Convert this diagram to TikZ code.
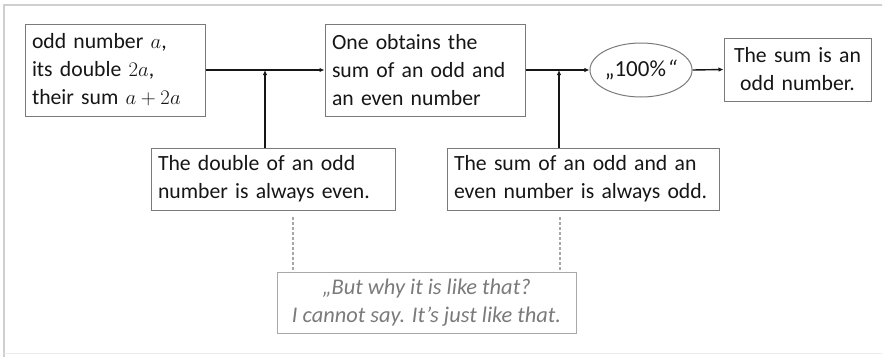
\documentclass[tikz,border=0pt]{standalone}
\usepackage{fontspec}
\setmainfont{Carlito}
\usetikzlibrary{arrows.meta,shapes.geometric}
\definecolor{ink}{HTML}{161616}
\definecolor{boxline}{HTML}{7A7A7A}
\definecolor{softline}{HTML}{A8A8A8}
\definecolor{softtext}{HTML}{7A7A7A}
\definecolor{frameline}{HTML}{CFCFCF}
\tikzset{
  txt/.style={font=\fontsize{21.7}{28}\selectfont, text=ink},
  stepbox/.style={txt, draw=boxline, line width=1pt, fill=white,
    inner xsep=7pt, inner ysep=0pt, align=left},
  flow/.style={draw=ink, line width=1.4pt, -{Latex[length=5pt,width=4.5pt]}},
  hint/.style={draw=softline, line width=1.2pt, dash pattern=on 3pt off 2pt},
}
\begin{document}
\begin{tikzpicture}[x=1pt,y=-1pt]
  \useasboundingbox (0,0) rectangle (882,357);
  % outer frame
  \draw[frameline, line width=2pt] (4,357) -- (4,5) -- (882,5);
  \draw[frameline!40, line width=1pt] (4,353) -- (882,353);

  % boxes
  \node[stepbox, minimum width=180pt, minimum height=92pt, text width=166pt]
    (given) at (115,70) {odd number $a$,\\its double $2a$,\\their sum $a+2a$};
  \node[stepbox, minimum width=200pt, minimum height=92pt, text width=186pt]
    (obtain) at (425,70) {One obtains the\\sum of an odd and\\an even number};
  \node[txt, draw=boxline, line width=1pt, ellipse, minimum width=96pt,
    minimum height=54pt, inner sep=0pt, font=\fontsize{23}{28}\selectfont]
    (sure) at (641,70) {„100\%\kern1.5pt\textit{“}};
  \node[stepbox, minimum width=147pt, minimum height=63pt, text width=133pt,
    align=center] (result) at (797.5,69.5) {The sum is an\\odd number.};
  \node[stepbox, minimum width=244pt, minimum height=62pt, text width=230pt]
    (rule1) at (273,179) {The double of an odd\\number is always even.};
  \node[stepbox, minimum width=272pt, minimum height=62pt, text width=258pt]
    (rule2) at (583,179) {The sum of an odd and an\\even number is always odd.};
  \node[txt, draw=softline, line width=1pt, text=softtext, align=center,
    minimum width=299pt, minimum height=61pt, inner sep=0pt,
    font=\fontsize{22.4}{28}\selectfont\itshape]
    (why) at (426.5,302.5) {„But why it is like that?\\I cannot say. It’s just like that.};

  % junction points on the main line
  \coordinate (j1) at (265,70);
  \coordinate (j2) at (559,70);
  \coordinate (d1) at (293,217);
  \coordinate (d2) at (560,217);

  % main flow
  \draw[flow] (given.east) -- (obtain.west);
  \draw[flow] (obtain.east) -- (sure.west);
  \draw[flow] (sure.east) -- (result.west);
  \draw[flow] (rule1.north -| j1) -- (j1);
  \draw[flow] (rule2.north -| j2) -- (j2);

  % dashed links to the question box
  \draw[hint] (d1) -- (d1 |- why.north);
  \draw[hint] (d2) -- (d2 |- why.north);
\end{tikzpicture}
\end{document}
